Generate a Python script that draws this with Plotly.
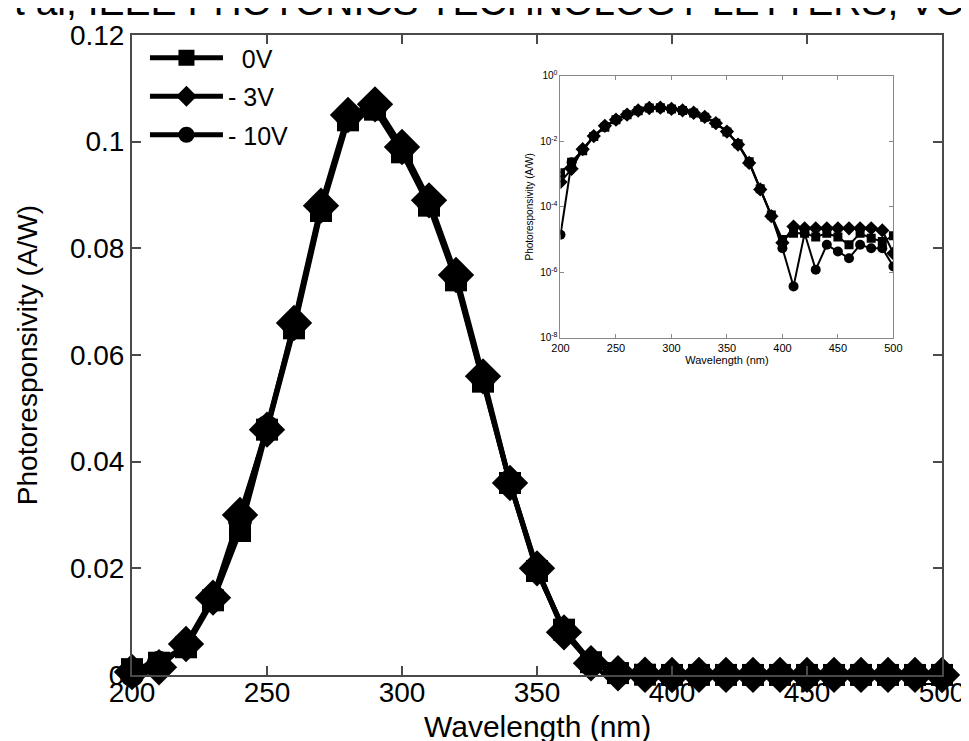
import plotly.graph_objects as go

# wavelengths (nm)
wavelength = list(range(200, 501, 10))

# photoresponsivity (A/W)
resp_0v = [1.1e-3, 2.3e-3, 5.2e-3, 1.4e-2, 2.7e-2, 4.6e-2, 6.5e-2, 8.7e-2, 1.04e-1, 1.06e-1,
           9.8e-2, 8.8e-2, 7.4e-2, 5.5e-2, 3.6e-2, 1.95e-2, 8.5e-3, 2.4e-3, 3.6e-4, 5.6e-5,
           1.0e-5, 1.55e-5, 1.55e-5, 1.2e-5, 1.55e-5, 1.2e-5, 6.9e-6, 1.55e-5, 1.1e-5, 8.7e-6, 1.3e-5]
resp_3v = [5.7e-4, 1.45e-3, 5.8e-3, 1.45e-2, 3.0e-2, 4.6e-2, 6.6e-2, 8.8e-2, 1.05e-1, 1.07e-1,
           9.9e-2, 8.9e-2, 7.5e-2, 5.6e-2, 3.6e-2, 2.0e-2, 8.0e-3, 2.2e-3, 3.4e-4, 5.2e-5,
           8.0e-6, 2.5e-5, 2.2e-5, 2.2e-5, 2.2e-5, 2.2e-5, 2.2e-5, 2.2e-5, 2.2e-5, 1.9e-5, 3.8e-6]
resp_10v = [1.4e-5, 2.3e-3, 5.5e-3, 1.45e-2, 2.9e-2, 4.65e-2, 6.55e-2, 8.75e-2, 1.045e-1, 1.065e-1,
            9.85e-2, 8.85e-2, 7.45e-2, 5.55e-2, 3.6e-2, 1.97e-2, 8.3e-3, 2.3e-3, 3.5e-4, 5.4e-5,
            5.4e-6, 3.7e-7, 1.55e-5, 1.2e-6, 6.9e-6, 4.3e-6, 2.7e-6, 6.9e-6, 5.4e-6, 5.4e-6, 1.5e-6]

series_names = ["  0V", "- 3V", "- 10V"]
symbols = ["square", "diamond", "circle"]
main_sizes = [22, 28, 24]
inset_sizes = [9, 11, 10]

y_ticks = [0, 0.02, 0.04, 0.06, 0.08, 0.1, 0.12]
y_ticktext = ["0", "0.02", "0.04", "0.06", "0.08", "0.1", "0.12"]
x_ticks = [200, 250, 300, 350, 400, 450, 500]
inset_y_ticks = [1e0, 1e-2, 1e-4, 1e-6, 1e-8]
inset_y_ticktext = ["10<sup>0</sup>", "10<sup>-2</sup>", "10<sup>-4</sup>", "10<sup>-6</sup>", "10<sup>-8</sup>"]

FONT = "Liberation Sans, Arial, sans-serif"

fig = go.Figure()

for name, vals, sym, ms, ims in zip(series_names, [resp_0v, resp_3v, resp_10v], symbols, main_sizes, inset_sizes):
    # main linear plot
    fig.add_trace(go.Scatter(
        x=wavelength, y=vals, name=name, legendgroup=name, mode="lines+markers",
        line=dict(color="black", width=5),
        marker=dict(symbol=sym, size=ms, color="black"),
        cliponaxis=False,
    ))
    # inset log plot
    fig.add_trace(go.Scatter(
        x=wavelength, y=vals, mode="lines+markers", showlegend=False,
        line=dict(color="black", width=2),
        marker=dict(symbol=sym, size=ims, color="black"),
        xaxis="x2", yaxis="y2",
    ))

axis_common = dict(showline=True, mirror="ticks", linecolor="#4a4a4a", linewidth=2,
                   ticks="inside", ticklen=9, tickwidth=2, tickcolor="#4a4a4a",
                   showgrid=False, zeroline=False)
inset_common = dict(showline=True, mirror="ticks", linecolor="#888", linewidth=1,
                    ticks="inside", ticklen=4, tickcolor="#888", showgrid=False, zeroline=False)

fig.update_layout(
    width=969, height=741,
    paper_bgcolor="white", plot_bgcolor="white",
    font=dict(family=FONT, color="black"),
    margin=dict(l=124, r=25, t=22, b=74),
    xaxis=dict(range=[200, 500], tickvals=x_ticks, tickfont=dict(size=28), ticklabelstandoff=-9,
               **axis_common),
    yaxis=dict(range=[0, 0.12], tickvals=y_ticks, ticktext=y_ticktext, tickfont=dict(size=28),
               title=dict(text="Photoresponsivity (A/W)", font=dict(size=28), standoff=24),
               **axis_common),
    xaxis2=dict(domain=[0.529, 0.940], anchor="y2", range=[200, 500], tickvals=x_ticks,
                tickfont=dict(size=11), title=dict(text="Wavelength (nm)", font=dict(size=11), standoff=1),
                **inset_common),
    yaxis2=dict(domain=[0.527, 0.936], anchor="x2", type="log", range=[-8, 0],
                tickvals=inset_y_ticks, ticktext=inset_y_ticktext, tickfont=dict(size=10),
                title=dict(text="Photoresponsivity (A/W)", font=dict(size=10), standoff=4),
                **inset_common),
    legend=dict(x=0.016, y=1.0, xanchor="left", yanchor="top", bgcolor="rgba(0,0,0,0)",
                font=dict(size=25), itemwidth=73, tracegroupgap=3),
    showlegend=True,
)

# main x-axis title, placed as text under the tick labels
fig.add_annotation(
    text="Wavelength (nm)", xref="paper", yref="paper", x=0.5, y=(667 - 719) / 645,
    xanchor="center", yanchor="middle", showarrow=False, font=dict(size=30, family=FONT, color="black"),
)

# clipped header from the journal page
fig.add_annotation(
    text="t al, IEEE PHOTONICS TECHNOLOGY LETTERS, VO",
    xref="paper", yref="paper", x=-124 / 820, y=(667 - 12) / 645, xanchor="left", yanchor="bottom",
    xshift=2, showarrow=False, font=dict(size=39, family=FONT, color="black"),
)

fig.write_html("out.html")
